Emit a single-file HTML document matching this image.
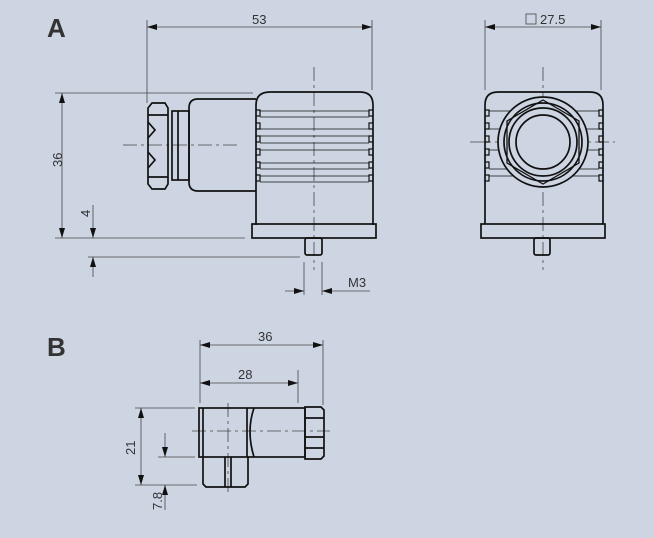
<!DOCTYPE html>
<html><head><style>
html,body{margin:0;padding:0;background:#cdd5e3;}
svg{display:block}
text{font-family:"Liberation Sans",sans-serif;fill:#333;}
</style></head><body>
<svg width="654" height="538" viewBox="0 0 654 538" xmlns="http://www.w3.org/2000/svg">
<defs>
<marker id="ar" viewBox="0 0 10 6" refX="10" refY="3" markerWidth="10" markerHeight="6" orient="auto-start-reverse" markerUnits="userSpaceOnUse"><path d="M0,0L10,3L0,6z" fill="#111"/></marker>
</defs>
<rect width="654" height="538" fill="#cdd5e3"/>
<text x="47" y="37" font-size="26" font-weight="bold" fill="#111">A</text>
<text x="47" y="356" font-size="26" font-weight="bold" fill="#111">B</text>

<g stroke="#444" stroke-width="0.8" fill="none">
<line x1="147" y1="20" x2="147" y2="103"/><line x1="372" y1="20" x2="372" y2="90"/>
<line x1="147" y1="27" x2="372" y2="27" marker-start="url(#ar)" marker-end="url(#ar)"/>
<line x1="55" y1="93" x2="253" y2="93"/><line x1="55" y1="238" x2="245" y2="238"/>
<line x1="62" y1="93" x2="62" y2="238" marker-start="url(#ar)" marker-end="url(#ar)"/>
<line x1="88" y1="257" x2="300" y2="257"/>
<line x1="93" y1="205" x2="93" y2="238" marker-end="url(#ar)"/>
<line x1="93" y1="277" x2="93" y2="257" marker-end="url(#ar)"/>
<line x1="304" y1="262" x2="304" y2="295"/><line x1="322" y1="262" x2="322" y2="295"/>
<line x1="285" y1="291" x2="304" y2="291" marker-end="url(#ar)"/>
<line x1="370" y1="291" x2="322" y2="291" marker-end="url(#ar)"/>
<line x1="485" y1="20" x2="485" y2="90"/><line x1="601" y1="20" x2="601" y2="90"/>
<line x1="485" y1="27" x2="601" y2="27" marker-start="url(#ar)" marker-end="url(#ar)"/>
<rect x="526" y="14" width="10" height="10"/>
<line x1="200" y1="340" x2="200" y2="403"/><line x1="323" y1="340" x2="323" y2="405"/><line x1="298" y1="370" x2="298" y2="403"/>
<line x1="200" y1="345" x2="323" y2="345" marker-start="url(#ar)" marker-end="url(#ar)"/>
<line x1="200" y1="383" x2="298" y2="383" marker-start="url(#ar)" marker-end="url(#ar)"/>
<line x1="135" y1="408" x2="195" y2="408"/><line x1="135" y1="485" x2="197" y2="485"/><line x1="158" y1="457" x2="195" y2="457"/>
<line x1="141" y1="408" x2="141" y2="485" marker-start="url(#ar)" marker-end="url(#ar)"/>
<line x1="165" y1="433" x2="165" y2="457" marker-end="url(#ar)"/>
<line x1="165" y1="510" x2="165" y2="485" marker-end="url(#ar)"/>
<g stroke-dasharray="14 4 3 4">
<line x1="123" y1="145" x2="237" y2="145"/><line x1="314" y1="67" x2="314" y2="270"/>
<line x1="470" y1="142" x2="615" y2="142"/><line x1="543" y1="67" x2="543" y2="270"/>
<line x1="192" y1="431" x2="330" y2="431"/><line x1="228" y1="403" x2="228" y2="495"/>
</g>
</g>

<g font-size="13">
<text x="252" y="24">53</text>
<text x="540" y="24">27.5</text>
<text x="348" y="287">M3</text>
<text x="258" y="341">36</text>
<text x="238" y="379">28</text>
<text transform="translate(62,167) rotate(-90)">36</text>
<text transform="translate(90,217) rotate(-90)">4</text>
<text transform="translate(135,455) rotate(-90)">21</text>
<text transform="translate(162,510) rotate(-90)">7.8</text>
</g>

<g stroke="#111" stroke-width="1.7" fill="none">
<path d="M256,225 V105 Q256,92 270,92 H360 Q373,92 373,105 V225"/>
<rect x="252" y="224" width="124" height="14"/>
<rect x="305" y="238" width="17" height="17" rx="2"/>
<path d="M256,99 H198 Q189,99 189,108 V182 Q189,191 198,191 H256"/>
<rect x="172" y="111" width="17" height="69"/>
<line x1="178" y1="111" x2="178" y2="180"/>
<path d="M152,103 H165 L168,108 V184 L165,189 H152 L148,184 V108 Z"/>
<line x1="148" y1="115" x2="168" y2="115"/><line x1="148" y1="177" x2="168" y2="177"/>
<path d="M148,122 L155,130 L148,138 M148,152 L155,160 L148,168"/>
<g stroke-width="1.2">
<path d="M256,110 h4 v6 h-4 M256,123 h4 v6 h-4 M256,136 h4 v6 h-4 M256,149 h4 v6 h-4 M256,162 h4 v6 h-4 M256,175 h4 v6 h-4"/>
<path d="M373,110 h-4 v6 h4 M373,123 h-4 v6 h4 M373,136 h-4 v6 h4 M373,149 h-4 v6 h4 M373,162 h-4 v6 h4 M373,175 h-4 v6 h4"/>
</g>
<g stroke-width="0.8">
<line x1="260" y1="111" x2="369" y2="111"/><line x1="260" y1="117" x2="369" y2="117"/>
<line x1="260" y1="129" x2="369" y2="129"/><line x1="260" y1="136" x2="369" y2="136"/>
<line x1="260" y1="143" x2="369" y2="143"/><line x1="260" y1="150" x2="369" y2="150"/>
<line x1="260" y1="163" x2="369" y2="163"/><line x1="260" y1="169" x2="369" y2="169"/>
<line x1="260" y1="176" x2="369" y2="176"/><line x1="260" y1="182" x2="369" y2="182"/>
</g>
<path d="M485,224 V105 Q485,92 498,92 H590 Q603,92 603,105 V224"/>
<rect x="481" y="224" width="124" height="14"/>
<rect x="534" y="238" width="16" height="17" rx="2"/>
<g stroke-width="1.2">
<path d="M485,110 h4 v6 h-4 M485,123 h4 v6 h-4 M485,136 h4 v6 h-4 M485,149 h4 v6 h-4 M485,162 h4 v6 h-4 M485,175 h4 v6 h-4"/>
<path d="M603,110 h-4 v6 h4 M603,123 h-4 v6 h4 M603,136 h-4 v6 h4 M603,149 h-4 v6 h4 M603,162 h-4 v6 h4 M603,175 h-4 v6 h4"/>
</g>
<g stroke-width="0.8">
<line x1="489" y1="111" x2="599" y2="111"/><line x1="489" y1="129" x2="599" y2="129"/>
<line x1="489" y1="150" x2="599" y2="150"/><line x1="489" y1="169" x2="599" y2="169"/>
<line x1="489" y1="176" x2="599" y2="176"/>
</g>
<circle cx="543" cy="142" r="45" fill="#cdd5e3"/>
<circle cx="543" cy="142" r="39"/>
<polygon points="543,100 579,121 579,163 543,184 507,163 507,121" stroke-width="1.3"/>
<circle cx="543" cy="142" r="34" fill="#cdd5e3"/>
<circle cx="543" cy="142" r="27"/>
<rect x="199" y="408" width="106" height="49"/>
<line x1="203" y1="408" x2="203" y2="457"/>
<path d="M254,408 Q246,431 254,457" />
<path d="M247,408 V457"/>
<path d="M305,407 H321 L324,410 V456 L321,459 H305 Z"/>
<line x1="305" y1="418" x2="324" y2="418"/><line x1="305" y1="437" x2="324" y2="437"/><line x1="305" y1="448" x2="324" y2="448"/>
<path d="M203,457 V484 L206,487 H245 L248,484 V457"/>
<line x1="225" y1="457" x2="225" y2="487"/><line x1="231" y1="457" x2="231" y2="487"/>
</g>
</svg>
</body></html>
